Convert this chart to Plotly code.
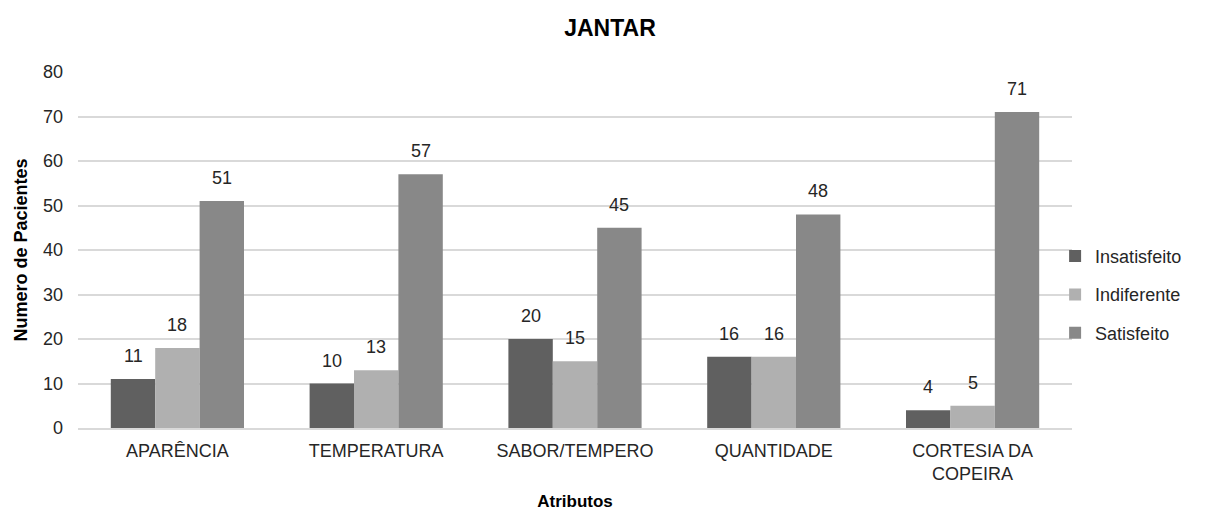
import plotly.graph_objects as go

categorias = ["APARÊNCIA", "TEMPERATURA", "SABOR/TEMPERO", "QUANTIDADE", "CORTESIA DA<br>COPEIRA"]
insatisfeito = [11, 10, 20, 16, 4]
indiferente = [18, 13, 15, 16, 5]
satisfeito = [51, 57, 45, 48, 71]
y_ticks = [0, 10, 20, 30, 40, 50, 60, 70, 80]

series = [
    ("Insatisfeito", insatisfeito, "#606060"),
    ("Indiferente", indiferente, "#b0b0b0"),
    ("Satisfeito", satisfeito, "#888888"),
]

FONT = "Liberation Sans, Arial, sans-serif"
TXT = "#262626"
W, H = 1220, 511
ML, MR, MT, MB = 78, 148, 72, 83
BARGAP = 0.33

fig = go.Figure()
for nome, valores, cor in series:
    fig.add_trace(go.Bar(
        name=nome, x=categorias, y=valores, marker_color=cor,
        marker_line_width=0, legendgroup=nome,
    ))

# value labels above each bar
cat_px = (W - ML - MR) / len(categorias)
bar_px = cat_px * (1 - BARGAP) / len(series)
for i, (nome, valores, cor) in enumerate(series):
    for c, v in zip(categorias, valores):
        fig.add_annotation(
            x=c, y=v, text=str(v), showarrow=False,
            xshift=(i - 1) * bar_px, yanchor="bottom", yshift=11,
            font=dict(family=FONT, size=18, color=TXT),
        )

fig.update_layout(
    width=W, height=H,
    margin=dict(l=ML, r=MR, t=MT, b=MB),
    paper_bgcolor="white", plot_bgcolor="white",
    barmode="group", bargap=BARGAP, bargroupgap=0,
    title=dict(text="<b>JANTAR</b>", x=0.5, xref="container", xanchor="center",
               y=1 - 28 / H, yref="container", yanchor="middle",
               font=dict(family=FONT, size=23, color="#000000")),
    legend=dict(x=0.983, xanchor="left", y=0.374, yanchor="middle",
                font=dict(family=FONT, size=18, color=TXT),
                tracegroupgap=12, itemwidth=30, bgcolor="rgba(0,0,0,0)"),
    font=dict(family=FONT, color=TXT),
)
fig.update_xaxes(
    showgrid=False, showline=True, linecolor="#d9d9d9", linewidth=2,
    tickfont=dict(family=FONT, size=18, color=TXT), ticks="",
    ticklabelstandoff=5, automargin=False,
    title=dict(text="<b>Atributos</b>", font=dict(family=FONT, size=17, color="#000000"),
               standoff=13),
)
fig.update_yaxes(
    range=[0, 80], tickvals=y_ticks, showgrid=True, gridcolor="#d9d9d9", gridwidth=2,
    zeroline=False, showline=False, automargin=False,
    tickfont=dict(family=FONT, size=18, color=TXT), ticks="",
    ticklabelstandoff=14,
    title=dict(text="<b>Numero de Pacientes</b>", font=dict(family=FONT, size=18, color="#000000"),
               standoff=10),
)

fig.write_html("out.html")
